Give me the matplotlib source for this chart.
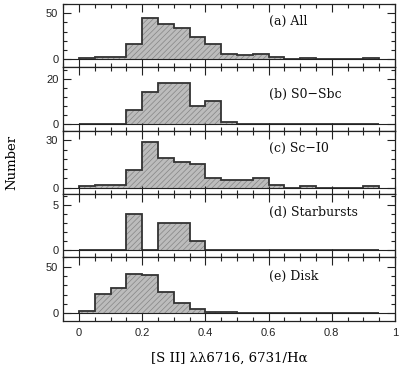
import numpy as np
import matplotlib
matplotlib.use("Agg")
import matplotlib.pyplot as plt
from matplotlib.ticker import MultipleLocator

# bin edges 0.00 ... 0.95, width 0.05
edges = np.round(np.arange(0, 0.951, 0.05), 2)

# counts per bin
all_counts = [1, 2, 2, 17, 45, 38, 34, 24, 17, 6, 5, 6, 2, 0, 1, 0, 0, 0, 1]
s0_sbc = [0, 0, 0, 6, 14, 18, 18, 8, 10, 1, 0, 0, 0, 0, 0, 0, 0, 0, 0]
sc_i0 = [1, 2, 2, 11, 29, 19, 16, 15, 6, 5, 5, 6, 2, 0, 1, 0, 0, 0, 1]
starbursts = [0, 0, 0, 4, 0, 3, 3, 1, 0, 0, 0, 0, 0, 0, 0, 0, 0, 0, 0]
disk = [2, 21, 27, 42, 41, 23, 11, 4, 1, 1, 0, 0, 0, 0, 0, 0, 0, 0, 0]

labels = ["(a) All", "(b) S0\u2212Sbc", "(c) Sc\u2212I0", "(d) Starbursts", "(e) Disk"]
series = [all_counts, s0_sbc, sc_i0, starbursts, disk]
ylims = [(-9, 60), (-3, 25), (-4, 36), (-0.8, 6.2), (-8, 60)]
ymajor = [50, 20, 30, 5, 50]
yminor = [10, 4, 6, 1, 10]
label_y = [0.72, 0.57, 0.72, 0.71, 0.70]

plt.rcParams["hatch.linewidth"] = 0.5
serif = ["DejaVu Serif"]

fig, axes = plt.subplots(5, 1, figsize=(4, 3.75), dpi=100, sharex=True)
fig.subplots_adjust(left=0.158, right=0.9875, top=0.989, bottom=0.145, hspace=0)

for ax, counts, lab, yl, ymaj, ymin, ly in zip(axes, series, labels, ylims, ymajor, yminor, label_y):
    ax.stairs(counts, edges, fill=True, facecolor="#bcbcbc", edgecolor="#858585",
              hatch="//////", linewidth=0)
    ax.stairs(counts, edges, fill=False, color="#333333", linewidth=1.3)
    ax.axhline(0, color="#222222", linewidth=0.8)
    ax.set_xlim(-0.05, 1.0)
    ax.set_ylim(*yl)
    ax.xaxis.set_major_locator(MultipleLocator(0.2))
    ax.xaxis.set_minor_locator(MultipleLocator(0.05))
    ax.yaxis.set_major_locator(MultipleLocator(ymaj))
    ax.yaxis.set_minor_locator(MultipleLocator(ymin))
    ax.tick_params(which="both", direction="in", top=True, right=True, width=0.8,
                   labelsize=8, colors="#222222")
    ax.tick_params(which="major", length=6)
    ax.tick_params(which="minor", length=3)
    for lbl in ax.get_yticklabels():
        lbl.set_family("Liberation Sans")
    for sp in ax.spines.values():
        sp.set_linewidth(0.9)
        sp.set_color("#222222")
    ax.text(0.6, ly, lab, transform=ax.get_xaxis_transform(), ha="left", va="center",
            fontsize=9, family=serif, color="#111111")

axes[-1].set_xticks([0, 0.2, 0.4, 0.6, 0.8, 1.0])
axes[-1].set_xticklabels(["0", "0.2", "0.4", "0.6", "0.8", "1"], family="Liberation Sans")
axes[-1].tick_params(axis="x", pad=5)
axes[-1].set_xlabel("[S II] \u03bb\u03bb6716, 6731/H\u03b1", fontsize=9.5, family=serif, labelpad=10)
fig.text(0.03, 0.567, "Number", rotation=90, ha="center", va="center", fontsize=9.5, family=serif)

fig.savefig("out.png", dpi=100)
